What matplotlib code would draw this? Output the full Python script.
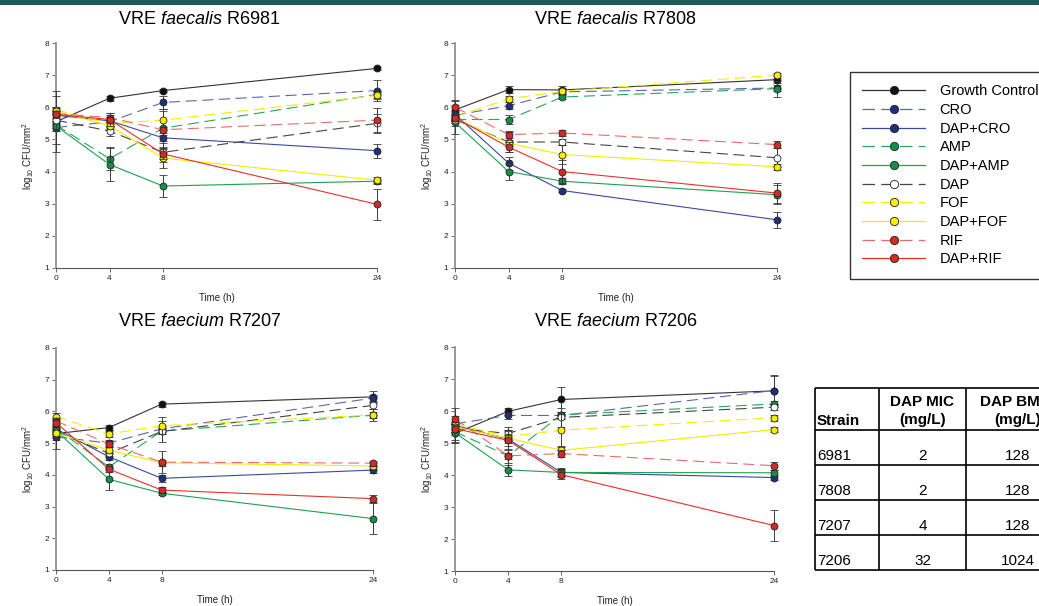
import matplotlib.pyplot as plt
from matplotlib.lines import Line2D
from matplotlib.patches import Rectangle

plt.rcParams['font.family'] = ['Liberation Sans', 'DejaVu Sans']
plt.rcParams['mathtext.fontset'] = 'custom'
plt.rcParams['mathtext.rm'] = 'Liberation Sans'
plt.rcParams['mathtext.it'] = 'Liberation Sans:italic'

# sampling times (h)
times = [0, 4, 8, 24]
treatments = ['Growth Control', 'CRO', 'DAP+CRO', 'AMP', 'DAP+AMP',
              'DAP', 'FOF', 'DAP+FOF', 'RIF', 'DAP+RIF']

# log10 CFU/mm2, one row per treatment (same order as above)
r6981_mean = [[5.55, 6.28, 6.52, 7.21], [5.37, 5.55, 6.15, 6.52], [5.75, 5.58, 5.05, 4.65],
              [5.45, 4.40, 5.35, 6.40], [5.42, 4.22, 3.55, 3.70], [5.60, 5.26, 4.60, 5.50],
              [5.92, 5.50, 5.60, 6.37], [5.88, 5.43, 4.42, 3.73], [5.80, 5.68, 5.30, 5.60],
              [5.78, 5.62, 4.55, 2.98]]
r6981_err = [[0.95, 0.08, 0.05, 0.05], [0.1, 0.2, 0.2, 0.32], [0.1, 0.1, 0.1, 0.22],
             [0.1, 0.35, 0.6, 0.1], [0.15, 0.52, 0.35, 0.08], [0.75, 0.15, 0.3, 0.3],
             [0.1, 0.1, 0.3, 0.1], [0.1, 0.12, 0.3, 0.1], [0.1, 0.15, 0.1, 0.38],
             [0.1, 0.2, 0.15, 0.48]]

r7808_mean = [[5.92, 6.55, 6.54, 6.86], [5.75, 6.05, 6.48, 6.60], [5.78, 4.26, 3.41, 2.50],
              [5.62, 5.62, 6.32, 6.58], [5.53, 4.00, 3.70, 3.28], [5.62, 4.92, 4.92, 4.43],
              [5.70, 6.26, 6.50, 7.00], [5.66, 4.88, 4.53, 4.15], [6.00, 5.15, 5.20, 4.84],
              [5.68, 4.76, 4.00, 3.33]]
r7808_err = [[0.3, 0.12, 0.12, 0.1], [0.1, 0.1, 0.08, 0.1], [0.1, 0.2, 0.06, 0.24],
             [0.1, 0.15, 0.06, 0.25], [0.1, 0.25, 0.1, 0.3], [0.45, 0.3, 0.1, 0.3],
             [0.1, 0.08, 0.1, 0.08], [0.1, 0.1, 0.3, 0.1], [0.2, 0.1, 0.08, 0.1],
             [0.1, 0.15, 0.35, 0.3]]

r7207_mean = [[5.30, 5.49, 6.23, 6.46], [5.20, 5.00, 5.45, 6.42], [5.45, 4.57, 3.89, 4.15],
              [5.47, 4.25, 5.38, 5.88], [5.40, 3.86, 3.42, 2.62], [5.35, 4.68, 5.37, 6.19],
              [5.84, 5.29, 5.55, 5.89], [5.32, 4.78, 4.38, 4.28], [5.70, 4.97, 4.40, 4.37],
              [5.65, 4.18, 3.52, 3.25]]
r7207_err = [[0.5, 0.08, 0.08, 0.18], [0.1, 0.1, 0.1, 0.1], [0.1, 0.1, 0.1, 0.1],
             [0.1, 0.1, 0.1, 0.1], [0.1, 0.35, 0.05, 0.5], [0.2, 0.1, 0.33, 0.1],
             [0.1, 0.1, 0.27, 0.2], [0.1, 0.1, 0.1, 0.1], [0.1, 0.1, 0.35, 0.08],
             [0.1, 0.1, 0.1, 0.12]]

r7206_mean = [[5.30, 5.99, 6.36, 6.63], [5.60, 5.86, 5.86, 6.64], [5.55, 5.12, 4.08, 3.92],
              [5.35, 4.60, 5.88, 6.22], [5.32, 4.16, 4.08, 4.07], [5.45, 5.30, 5.80, 6.12],
              [5.60, 5.20, 5.40, 5.79], [5.50, 5.15, 4.77, 5.42], [5.75, 4.60, 4.67, 4.29],
              [5.45, 5.08, 4.01, 2.42]]
r7206_err = [[0.3, 0.1, 0.4, 0.5], [0.1, 0.1, 0.1, 0.45], [0.1, 0.3, 0.1, 0.08],
             [0.1, 0.3, 0.1, 0.1], [0.3, 0.2, 0.15, 0.1], [0.1, 0.2, 0.3, 0.1],
             [0.5, 0.2, 0.5, 0.1], [0.1, 0.1, 0.1, 0.08], [0.1, 0.1, 0.1, 0.12],
             [0.1, 0.3, 0.15, 0.48]]

# table on the lower right
strains = ['6981', '7808', '7207', '7206']
dap_mic = ['2', '2', '4', '32']
dap_bmic = ['128', '128', '128', '1024']

line_colors = ['#333333', '#5a67ab', '#3b4a9c', '#2aa55a', '#1fa050',
               '#444444', '#f2f000', '#f0ee00', '#ec6a6a', '#e8302c']
face_colors = ['#111111', '#1f2f7a', '#1f2f7a', '#119045', '#119045',
               'white', '#f7ee00', '#f7ee00', '#d42a25', '#d42a25']
dash = (0, (10, 5))
line_styles = ['-', dash, '-', dash, '-', dash, dash, '-', dash, '-']

W, H = 1039, 606
fig = plt.figure(figsize=(W / 100, H / 100), dpi=100)

# overlay in pixel coordinates for the banner and the table
bg = fig.add_axes([0, 0, 1, 1], zorder=-5)
bg.set_xlim(0, W)
bg.set_ylim(H, 0)
bg.axis('off')
bg.add_patch(Rectangle((0, 0), W, 5, color='#1f5b59', lw=0))


def draw_panel(rect, title, title_xy, means, errs):
    ax = fig.add_axes(rect)
    for i in range(len(treatments)):
        eb = ax.errorbar(times, means[i], yerr=errs[i], color=line_colors[i],
                         ls=line_styles[i], lw=0.8, marker='o', ms=5,
                         mfc=face_colors[i], mec='#222222', mew=0.6,
                         ecolor='#3a3a3a', elinewidth=0.7, capsize=2.8,
                         capthick=0.7, zorder=3 + i)
        for art in eb.get_children():
            art.set_clip_on(False)
    ax.set_xlim(0, 24)
    ax.set_ylim(1, 8)
    ax.set_xticks(times)
    ax.set_yticks(range(1, 9))
    ax.spines[['top', 'right']].set_visible(False)
    ax.spines['left'].set_color('#9a9a9a')
    ax.spines['left'].set_linewidth(1.4)
    ax.spines['bottom'].set_color('#555555')
    ax.spines['bottom'].set_linewidth(0.8)
    ax.tick_params(labelsize=6, length=3, width=0.7, colors='#666666',
                   labelcolor='#222222', pad=2)
    ax.set_xlabel('Time (h)', fontsize=7, labelpad=8, color='#222222')
    ax.set_ylabel('log$_{10}$ CFU/mm$^2$', fontsize=7, labelpad=6, color='#222222')
    fig.text(title_xy[0] / W, 1 - title_xy[1] / H, title, fontsize=13,
             ha='center', va='center')
    return ax


draw_panel([56 / W, 1 - 268 / H, 321 / W, 225 / H], 'VRE $\\it{faecalis}$ R6981',
           (199, 20), r6981_mean, r6981_err)
draw_panel([455 / W, 1 - 268 / H, 322 / W, 225 / H], 'VRE $\\it{faecalis}$ R7808',
           (615, 20), r7808_mean, r7808_err)
draw_panel([56 / W, 1 - 570 / H, 317 / W, 222 / H], 'VRE $\\it{faecium}$ R7207',
           (200, 322), r7207_mean, r7207_err)
draw_panel([455 / W, 1 - 571 / H, 319 / W, 224 / H], 'VRE $\\it{faecium}$ R7206',
           (616, 322), r7206_mean, r7206_err)

# legend
handles = [Line2D([], [], color=line_colors[i], ls=line_styles[i], lw=0.9, marker='o',
                  ms=6, mfc=face_colors[i], mec='#222222', mew=0.6)
           for i in range(len(treatments))]
fig.legend(handles, treatments, loc='upper left', bbox_to_anchor=(850 / W, 1 - 72 / H),
           frameon=True, fancybox=False, edgecolor='#333333', framealpha=1,
           fontsize=10.5, handlelength=4.3, handletextpad=1.0, labelspacing=0.32,
           borderpad=0.85, borderaxespad=0, numpoints=1)

# table
row_lines = [388, 430, 464.5, 499.5, 534.5, 569.5]
col_lines = [815, 879, 966]
for y in row_lines:
    bg.plot([815, W + 5], [y, y], color='black', lw=1.2, solid_capstyle='butt')
for x in col_lines:
    bg.plot([x, x], [388, 569.5], color='black', lw=1.2, solid_capstyle='butt')
bg.text(817, 421, 'Strain', fontsize=11, fontweight='bold', ha='left', va='center')
bg.text(922.5, 411, 'DAP MIC\n(mg/L)', fontsize=11, fontweight='bold', ha='center',
        va='center', linespacing=1.45)
bg.text(1018, 411, 'DAP BMIC\n(mg/L)', fontsize=11, fontweight='bold', ha='center',
        va='center', linespacing=1.45)
for k in range(len(strains)):
    yc = row_lines[k + 2] - 8.5
    bg.text(817, yc, strains[k], fontsize=11, ha='left', va='center')
    bg.text(922.5, yc, dap_mic[k], fontsize=11, ha='center', va='center')
    bg.text(1018, yc, dap_bmic[k], fontsize=11, ha='center', va='center')

plt.savefig('out.png', dpi=100)
